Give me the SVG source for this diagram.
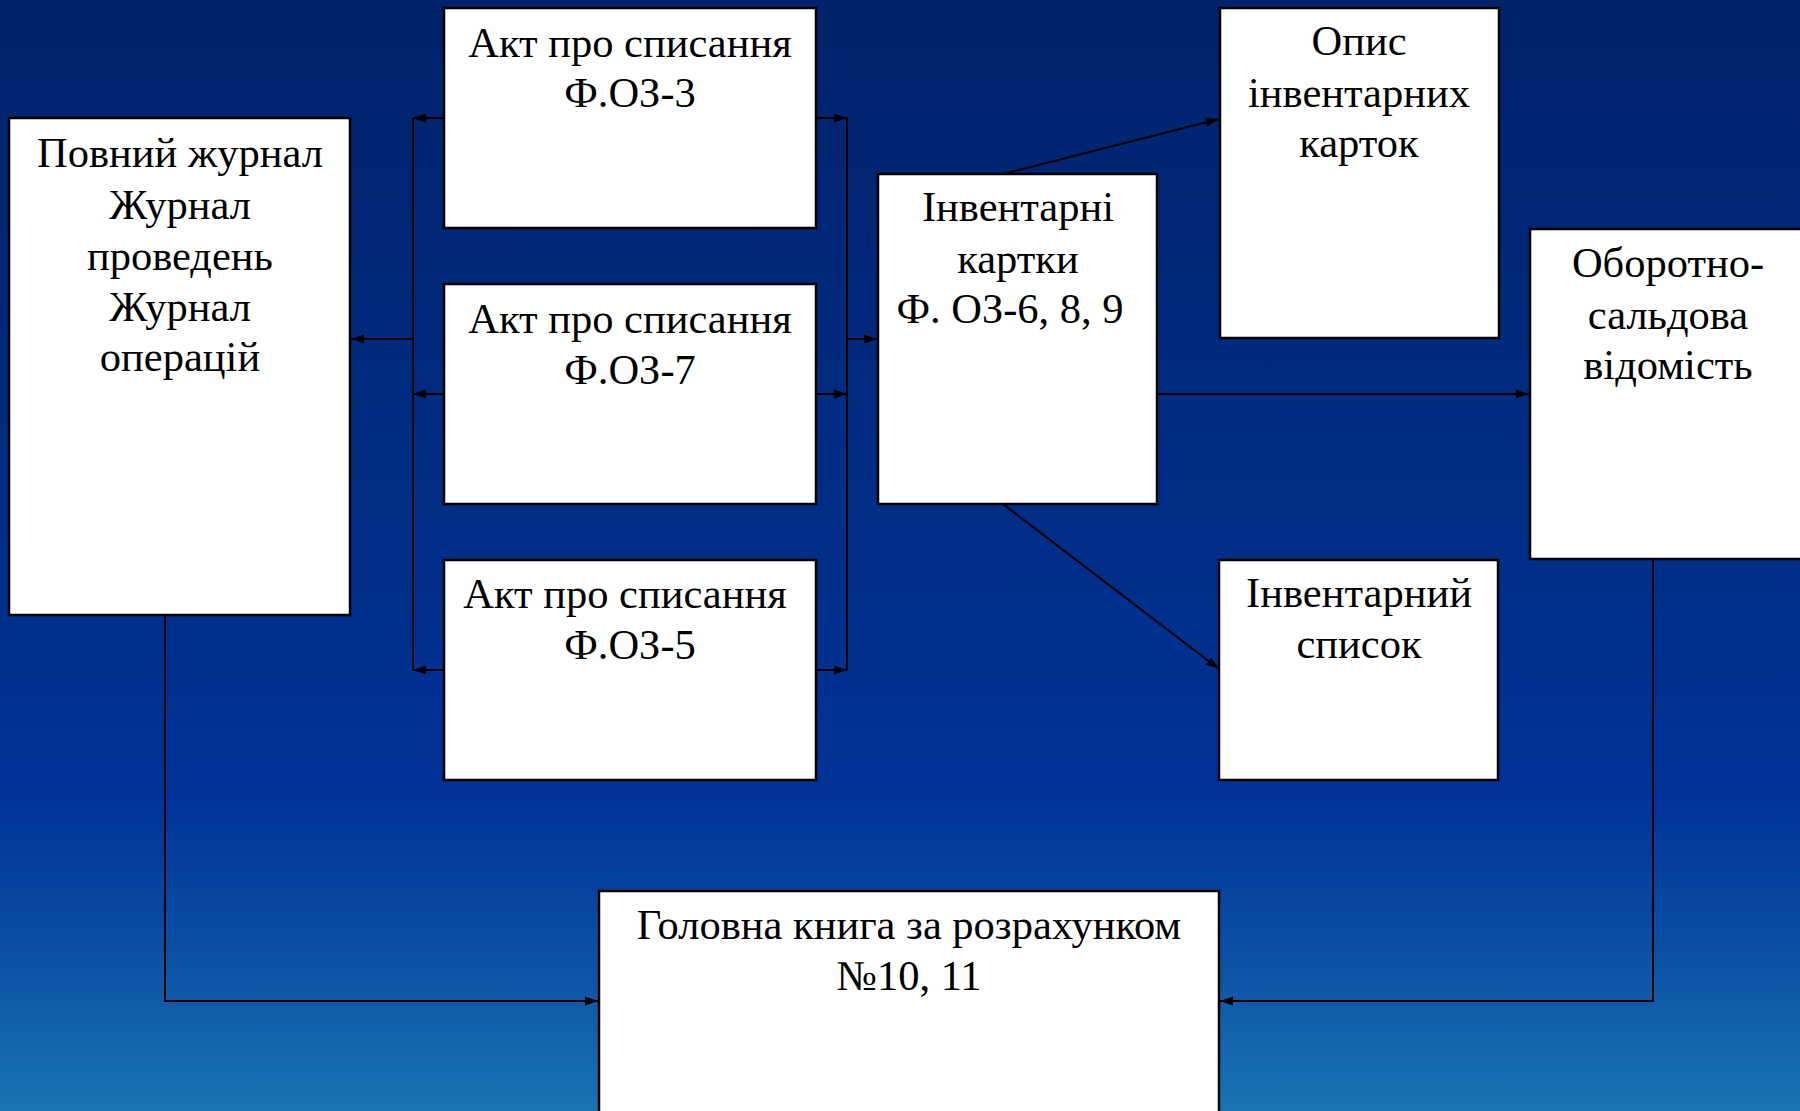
<svg xmlns="http://www.w3.org/2000/svg" width="1800" height="1111" viewBox="0 0 1800 1111">
<defs>
<linearGradient id="bg" x1="0" y1="0" x2="0" y2="1">
<stop offset="0" stop-color="#00226A"/>
<stop offset="0.45" stop-color="#002D85"/>
<stop offset="0.72" stop-color="#003399"/>
<stop offset="0.85" stop-color="#0A4EA4"/>
<stop offset="1" stop-color="#1A74B2"/>
</linearGradient>
<marker id="ah" markerUnits="userSpaceOnUse" markerWidth="14" markerHeight="10" refX="13" refY="5" orient="auto">
<path d="M0,0.5 L13,5 L0,9.5 z" fill="#000"/>
</marker>
<style>
.box{fill:#fff;stroke:#000;stroke-width:2.5}
.t{font-family:"Liberation Serif","Times New Roman",serif;font-size:42.5px;fill:#000;text-anchor:middle}
.c{fill:none;stroke:#000;stroke-width:2}
.a{fill:none;stroke:#000;stroke-width:2;marker-end:url(#ah)}
</style>
</defs>
<rect x="0" y="0" width="1800" height="1111" fill="url(#bg)"/>

<g id="connectors">
<line class="c" x1="413" y1="118" x2="413" y2="670"/>
<line class="c" x1="847" y1="118" x2="847" y2="670"/>
<line class="a" x1="444" y1="118" x2="413" y2="118"/>
<line class="a" x1="444" y1="394" x2="413" y2="394"/>
<line class="a" x1="444" y1="670" x2="413" y2="670"/>
<line class="a" x1="413" y1="339" x2="351" y2="339"/>
<line class="a" x1="816" y1="118" x2="847" y2="118"/>
<line class="a" x1="816" y1="394" x2="847" y2="394"/>
<line class="a" x1="816" y1="670" x2="847" y2="670"/>
<line class="a" x1="847" y1="339" x2="877" y2="339"/>
<line class="a" x1="1003" y1="174" x2="1219" y2="119"/>
<line class="a" x1="1157" y1="394" x2="1529" y2="394"/>
<line class="a" x1="1003" y1="504" x2="1219" y2="669"/>
<polyline class="a" points="165,615 165,1001 598,1001"/>
<polyline class="a" points="1653,559 1653,1001 1220,1001"/>
</g>

<g id="journal">
<rect class="box" x="9" y="118" width="341" height="497"/>
<text class="t" x="180" y="167">Повний журнал</text>
<text class="t" x="180" y="219">Журнал</text>
<text class="t" x="180" y="270">проведень</text>
<text class="t" x="180" y="321">Журнал</text>
<text class="t" x="180" y="371">операцій</text>
</g>

<g id="akt3">
<rect class="box" x="444" y="8" width="372" height="220"/>
<text class="t" x="630" y="57">Акт про списання</text>
<text class="t" x="630" y="107">Ф.ОЗ-3</text>
</g>

<g id="akt7">
<rect class="box" x="444" y="284" width="372" height="220"/>
<text class="t" x="630" y="333">Акт про списання</text>
<text class="t" x="630" y="384">Ф.ОЗ-7</text>
</g>

<g id="akt5">
<rect class="box" x="444" y="560" width="372" height="220"/>
<text class="t" x="625" y="608">Акт про списання</text>
<text class="t" x="630" y="659">Ф.ОЗ-5</text>
</g>

<g id="inv-cards">
<rect class="box" x="878" y="174" width="279" height="330"/>
<text class="t" x="1018" y="221">Інвентарні</text>
<text class="t" x="1018" y="273">картки</text>
<text class="t" x="1010" y="323">Ф. ОЗ-6, 8, 9</text>
</g>

<g id="opys">
<rect class="box" x="1220" y="8" width="279" height="330"/>
<text class="t" x="1359" y="55">Опис</text>
<text class="t" x="1359" y="107">інвентарних</text>
<text class="t" x="1359" y="157">карток</text>
</g>

<g id="oborotno">
<rect class="box" x="1530" y="229" width="290" height="330"/>
<text class="t" x="1668" y="277">Оборотно-</text>
<text class="t" x="1668" y="329">сальдова</text>
<text class="t" x="1668" y="379">відомість</text>
</g>

<g id="inv-list">
<rect class="box" x="1219" y="560" width="279" height="220"/>
<text class="t" x="1359" y="607">Інвентарний</text>
<text class="t" x="1359" y="658">список</text>
</g>

<g id="ledger">
<rect class="box" x="599" y="891" width="620" height="230"/>
<text class="t" x="909" y="939">Головна книга за розрахунком</text>
<text class="t" x="909" y="990">№10, 11</text>
</g>
</svg>
